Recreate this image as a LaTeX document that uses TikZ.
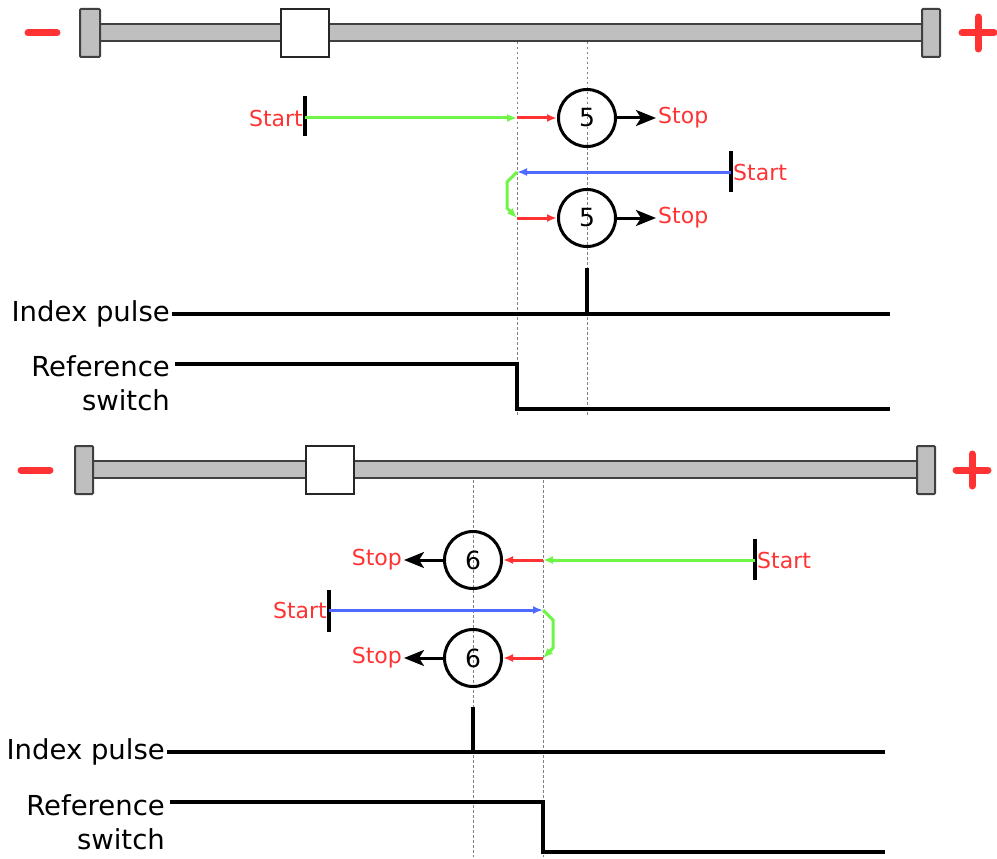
\documentclass[tikz,border=0pt]{standalone}
\usepackage{fontspec}
\setmainfont{DejaVu Sans}
\usetikzlibrary{arrows.meta}
\definecolor{redtxt}{RGB}{255,51,51}
\definecolor{grnpath}{RGB}{110,245,70}
\definecolor{blupath}{RGB}{80,105,255}
\definecolor{rodgray}{RGB}{191,191,191}
\tikzset{
  rodbar/.style={draw=black!75, fill=rodgray, line width=2pt},
  endcap/.style={draw=black!75, fill=rodgray, line width=2pt, rounded corners=1pt},
  carriage/.style={draw=black!85, fill=white, line width=2.8pt},
  guide/.style={draw=gray, line width=1pt, dash pattern=on 2.5pt off 2.5pt},
  sig/.style={line width=3.2pt},
  starttick/.style={line width=3.4pt},
  homestep/.style={circle, draw, line width=3pt, minimum size=57pt, inner sep=0pt,
    font=\fontsize{25}{25}\selectfont},
  redtext/.style={text=redtxt, font=\fontsize{22}{24}\selectfont, inner sep=2pt},
  sigtext/.style={font=\fontsize{27.5}{34}\selectfont, align=right, inner sep=2pt},
  colarrow/.style={line width=3pt, -{Latex[length=10pt,width=8pt]}},
  blkarrow/.style={line width=3pt, -{Stealth[length=20pt,width=16pt,inset=5pt]}},
  pm/.style={draw=redtxt, line width=7pt, line cap=round}
}
\begin{document}
\begin{tikzpicture}[x=1pt,y=-1pt]
\useasboundingbox (0,0) rectangle (997,859);

% ---------- upper axis ----------
\draw[pm] (28,33) -- (57,33);
\draw[pm] (962,33) -- (994,33);
\draw[pm] (978,17) -- (978,49);
\draw[rodbar] (100,24) rectangle (922,41);
\draw[endcap] (80,9) rectangle (100,57);
\draw[endcap] (922,9) rectangle (940,57);
\draw[carriage] (281,9) rectangle (329,57);

\draw[guide] (517,42) -- (517,415);
\draw[guide] (587,42) -- (587,415);

% first run: start left of switch
\coordinate (s1) at (305,118);
\coordinate (r1) at (517,118);
\node[homestep] (h1) at (587,118) {5};
\coordinate (e1) at (656,118);
\draw[starttick] (305,96) -- (305,136);
\node[redtext, anchor=east] (st1) at (s1) {Start};
\draw[colarrow, grnpath] (s1) -- (r1);
\draw[colarrow, redtxt] (r1) -- (h1.west);
\draw[blkarrow] (h1.east) -- (e1);
\node[redtext, anchor=west] (sp1) at (e1) {Stop};

% second run: start right of switch
\coordinate (s2) at (731,172);
\coordinate (r2) at (517,172);
\coordinate (q2) at (517,218);
\node[homestep] (h2) at (587,218) {5};
\coordinate (e2) at (656,218);
\draw[starttick] (731,151) -- (731,192);
\node[redtext, anchor=west] (st2) at (s2) {Start};
\draw[colarrow, blupath] (s2) -- (r2);
\draw[colarrow, grnpath] (r2) -- (507,182) -- (507,208) -- (q2);
\draw[colarrow, redtxt] (q2) -- (h2.west);
\draw[blkarrow] (h2.east) -- (e2);
\node[redtext, anchor=west] (sp2) at (e2) {Stop};

% signals
\node[sigtext, anchor=east] (ip) at (172,314) {Index pulse};
\draw[sig] (ip.east) -- (890,314);
\draw[sig] (587,268) -- (587,314);
\node[sigtext, anchor=east] (rs) at (172,383) {Reference\\switch};
\draw[sig] (175,364) -- (517,364) -- (517,409) -- (890,409);

% ---------- lower axis ----------
\draw[pm] (21,470) -- (50,470);
\draw[pm] (956,470) -- (988,470);
\draw[pm] (972,454) -- (972,486);
\draw[rodbar] (93,461) rectangle (917,478);
\draw[endcap] (75,446) rectangle (93,494);
\draw[endcap] (917,446) rectangle (935,494);
\draw[carriage] (306,446) rectangle (354,494);

\draw[guide] (473,480) -- (473,857);
\draw[guide] (543,480) -- (543,857);

% first run: start right of switch
\coordinate (s3) at (755,560);
\coordinate (r3) at (543,560);
\node[homestep] (h3) at (473,560) {6};
\coordinate (e3) at (404,560);
\draw[starttick] (755,539) -- (755,580);
\node[redtext, anchor=west] (st3) at (s3) {Start};
\draw[colarrow, grnpath] (s3) -- (r3);
\draw[colarrow, redtxt] (r3) -- (h3.east);
\draw[blkarrow] (h3.west) -- (e3);
\node[redtext, anchor=east] (sp3) at (e3) {Stop};

% second run: start left of switch
\coordinate (s4) at (329,610);
\coordinate (r4) at (543,610);
\coordinate (q4) at (543,658);
\node[homestep] (h4) at (473,658) {6};
\coordinate (e4) at (404,658);
\draw[starttick] (329,590) -- (329,632);
\node[redtext, anchor=east] (st4) at (s4) {Start};
\draw[colarrow, blupath] (s4) -- (r4);
\draw[colarrow, grnpath] (r4) -- (553,620) -- (553,648) -- (q4);
\draw[colarrow, redtxt] (q4) -- (h4.east);
\draw[blkarrow] (h4.west) -- (e4);
\node[redtext, anchor=east] (sp4) at (e4) {Stop};

% signals
\node[sigtext, anchor=east] (ip2) at (167,752) {Index pulse};
\draw[sig] (ip2.east) -- (885,752);
\draw[sig] (473,707) -- (473,752);
\node[sigtext, anchor=east] (rs2) at (167,822) {Reference\\switch};
\draw[sig] (170,802) -- (543,802) -- (543,852) -- (885,852);

\end{tikzpicture}
\end{document}
